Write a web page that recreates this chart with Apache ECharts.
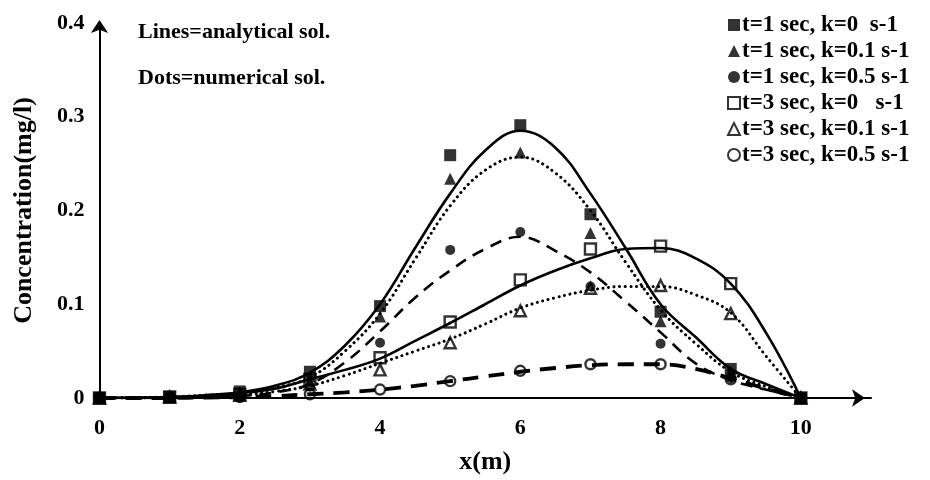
<!DOCTYPE html>
<html>
<head>
<meta charset="utf-8">
<script src="https://cdn.jsdelivr.net/npm/echarts@6/dist/echarts.min.js"></script>
<style>
html,body{margin:0;padding:0;background:#fff;}
#chart{width:930px;height:480px;}
</style>
</head>
<body>
<div id="chart"></div>
<script>
// ---- data ----
var xPoints = [0, 1, 2, 3, 4, 5, 6, 7, 8, 9, 10];
var dotsT1K0   = [0, 0.001, 0.007, 0.028, 0.098, 0.259, 0.291, 0.196, 0.092, 0.031, 0];
var dotsT1K01  = [0, 0.001, 0.006, 0.023, 0.087, 0.234, 0.262, 0.176, 0.082, 0.028, 0];
var dotsT1K05  = [0, 0.001, 0.001, 0.012, 0.059, 0.158, 0.177, 0.119, 0.058, 0.021, 0];
var dotsT3K0   = [0, 0.001, 0.004, 0.020, 0.043, 0.081, 0.126, 0.159, 0.162, 0.122, 0];
var dotsT3K01  = [0, 0.001, 0.003, 0.015, 0.030, 0.059, 0.093, 0.117, 0.120, 0.090, 0];
var dotsT3K05  = [0, 0.001, 0.001, 0.004, 0.009, 0.018, 0.029, 0.036, 0.036, 0.020, 0];

var xLine = [0, 0.5, 1, 1.5, 2, 2.5, 3, 3.5, 4, 4.5, 5, 5.5, 6, 6.5, 7, 7.5, 8, 8.5, 9, 9.5, 10];
var lineT1K0  = [0, 0.0005, 0.001, 0.003, 0.006, 0.013, 0.027, 0.056, 0.1, 0.16, 0.218, 0.264, 0.285, 0.267, 0.218, 0.16, 0.1, 0.065, 0.031, 0.015, 0];
var lineT1K01 = [0, 0.0005, 0.001, 0.003, 0.005, 0.011, 0.022, 0.05, 0.09, 0.148, 0.205, 0.243, 0.257, 0.24, 0.2, 0.145, 0.094, 0.058, 0.028, 0.012, 0];
var lineT1K05 = [0, 0, 0.0005, 0.001, 0.002, 0.006, 0.015, 0.038, 0.071, 0.107, 0.136, 0.159, 0.172, 0.157, 0.134, 0.103, 0.07, 0.037, 0.019, 0.009, 0];
var lineT3K0  = [0, 0, 0.001, 0.002, 0.005, 0.01, 0.02, 0.03, 0.042, 0.061, 0.08, 0.1, 0.12, 0.136, 0.149, 0.159, 0.16, 0.149, 0.122, 0.07, 0];
var lineT3K01 = [0, 0, 0.0005, 0.001, 0.003, 0.007, 0.013, 0.024, 0.037, 0.05, 0.063, 0.079, 0.096, 0.107, 0.115, 0.119, 0.119, 0.11, 0.091, 0.045, 0];
var lineT3K05 = [0, 0, 0, 0.0005, 0.001, 0.002, 0.004, 0.006, 0.009, 0.013, 0.018, 0.023, 0.028, 0.032, 0.035, 0.036, 0.036, 0.031, 0.021, 0.01, 0];

var seriesNames = ['t=1 sec, k=0  s-1', 't=1 sec, k=0.1 s-1', 't=1 sec, k=0.5 s-1',
                   't=3 sec, k=0   s-1', 't=3 sec, k=0.1 s-1', 't=3 sec, k=0.5 s-1'];
var xTickLabels = ['0', '2', '4', '6', '8', '10'];
var yTickLabels = ['0', '0.1', '0.2', '0.3', '0.4'];
var xTitle = 'x(m)';
var yTitle = 'Concentration(mg/l)';
var note1 = 'Lines=analytical sol.';
var note2 = 'Dots=numerical sol.';

// ---- build ----
var FONT = '"Liberation Serif", "Times New Roman", serif';
function pairs(xs, ys) { return xs.map(function (x, i) { return [x, ys[i]]; }); }

var dotSets = [dotsT1K0, dotsT1K01, dotsT1K05, dotsT3K0, dotsT3K01, dotsT3K05];
var dotSymbols = ['rect', 'triangle', 'circle', 'rect', 'triangle', 'circle'];
var dotSizes = [12, 12, 10, 11, 11, 10];
var filled = [true, true, true, false, false, false];

var lineSets = [lineT1K0, lineT1K01, lineT1K05, lineT3K0, lineT3K01, lineT3K05];
var lineStyles = [
  {type: 'solid', width: 2.6},
  {type: [0.1, 5.5], width: 3, cap: 'round'},
  {type: [12, 8], width: 2.6},
  {type: 'solid', width: 2.6},
  {type: [0.1, 5.5], width: 3, cap: 'round'},
  {type: [16, 10], width: 3.8}
];

var series = [];
lineSets.forEach(function (ys, i) {
  series.push({
    name: 'analytical ' + i,
    type: 'line',
    data: pairs(xLine, ys),
    smooth: 0.4,
    symbol: 'none',
    z: 3,
    lineStyle: Object.assign({color: '#000'}, lineStyles[i])
  });
});
dotSets.forEach(function (ys, i) {
  series.push({
    name: seriesNames[i],
    type: 'scatter',
    data: pairs(xPoints, ys),
    symbol: dotSymbols[i],
    symbolSize: dotSizes[i],
    z: 2,
    itemStyle: filled[i] ? {color: '#000'} : {color: 'rgba(255,255,255,0)', borderColor: '#000', borderWidth: 2.4}
  });
});

var chart = echarts.init(document.getElementById('chart'), null, {renderer: 'canvas'});
chart.setOption({
  animation: false,
  backgroundColor: '#fff',
  grid: {left: 99.5, right: 59, top: 23, bottom: 75, containLabel: false},
  legend: {
    data: seriesNames,
    orient: 'vertical',
    left: 722,
    top: 7,
    itemGap: 0,
    itemWidth: 12,
    itemHeight: 12,
    textStyle: {fontFamily: FONT, fontWeight: 'bold', fontSize: 23, color: '#000', lineHeight: 26, padding: [0, 0, 0, -3]}
  },
  xAxis: {
    type: 'value',
    min: 0, max: 11, interval: 2,
    name: xTitle, nameLocation: 'middle', nameGap: 51,
    nameTextStyle: {fontFamily: FONT, fontWeight: 'bold', fontSize: 26, color: '#000'},
    axisLine: {lineStyle: {color: '#000', width: 2}, symbol: ['none', 'arrow'], symbolSize: [13, 13], symbolOffset: [0, -6]},
    axisTick: {show: false},
    splitLine: {show: false},
    axisLabel: {
      margin: 19, fontFamily: FONT, fontWeight: 'bold', fontSize: 22, color: '#000',
      formatter: function (v) { var s = String(v); return xTickLabels.indexOf(s) >= 0 ? s : ''; }
    }
  },
  yAxis: {
    type: 'value',
    min: 0, max: 0.4, interval: 0.1,
    name: yTitle, nameLocation: 'middle', nameGap: 62,
    nameTextStyle: {fontFamily: FONT, fontWeight: 'bold', fontSize: 26, color: '#000'},
    axisLine: {show: true, lineStyle: {color: '#000', width: 2}, symbol: ['none', 'arrow'], symbolSize: [13, 13], symbolOffset: [0, 3]},
    axisTick: {show: false},
    splitLine: {show: false},
    axisLabel: {
      margin: 15, fontFamily: FONT, fontWeight: 'bold', fontSize: 22, color: '#000',
      formatter: function (v) { return yTickLabels[Math.round(v * 10)]; }
    }
  },
  graphic: [
    {type: 'text', left: 138, top: 21, style: {text: note1, fill: '#000', font: 'bold 22px ' + FONT}},
    {type: 'text', left: 138, top: 67, style: {text: note2, fill: '#000', font: 'bold 22px ' + FONT}}
  ],
  series: series
});
</script>
</body>
</html>
